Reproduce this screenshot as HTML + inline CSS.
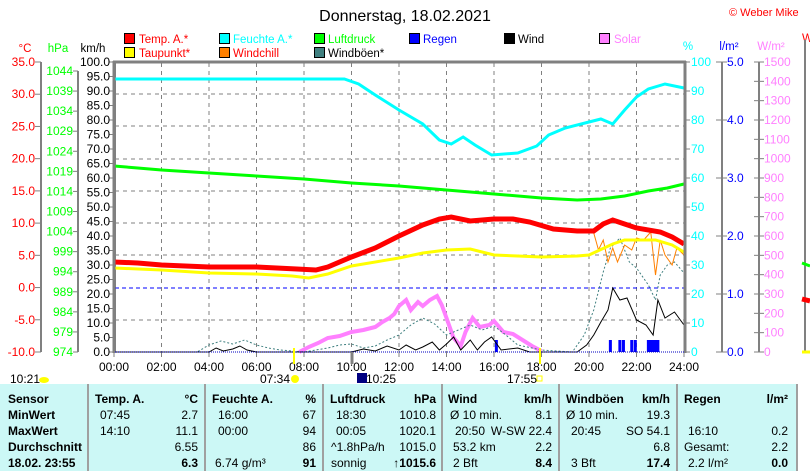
<!DOCTYPE html>
<html><head><meta charset="utf-8"><style>
body{margin:0;background:#fff;width:810px;height:471px;overflow:hidden;font-family:"Liberation Sans",sans-serif}
svg text{font-family:"Liberation Sans",sans-serif}
</style></head><body>
<svg width="810" height="471" xmlns="http://www.w3.org/2000/svg">
<text x="405" y="21" font-size="16" text-anchor="middle" fill="#000">Donnerstag, 18.02.2021</text>
<text x="729" y="16" font-size="11" fill="#f00">© Weber Mike</text>
<g font-size="11.5">
<rect x="124.5" y="33.5" width="10" height="10" fill="#f00" stroke="#000"/><text x="139" y="43" fill="#f00">Temp. A.*</text>
<rect x="124.5" y="47.5" width="10" height="10" fill="#ff0" stroke="#000"/><text x="139" y="57" fill="#f00">Taupunkt*</text>
<rect x="219.5" y="33.5" width="10" height="10" fill="#0ff" stroke="#000"/><text x="233" y="43" fill="#0ff">Feuchte A.*</text>
<rect x="219.5" y="47.5" width="10" height="10" fill="#ff8000" stroke="#000"/><text x="233" y="57" fill="#f00">Windchill</text>
<rect x="314.5" y="33.5" width="10" height="10" fill="#0f0" stroke="#000"/><text x="328" y="43" fill="#0f0">Luftdruck</text>
<rect x="314.5" y="47.5" width="10" height="10" fill="#408080" stroke="#000"/><text x="328" y="57" fill="#000">Windböen*</text>
<rect x="409.5" y="33.5" width="10" height="10" fill="#00f" stroke="#000"/><text x="423" y="43" fill="#00f">Regen</text>
<rect x="504.5" y="33.5" width="10" height="10" fill="#000" stroke="#000"/><text x="518" y="43" fill="#000">Wind</text>
<rect x="599.5" y="33.5" width="10" height="10" fill="#ff80ff" stroke="#000"/><text x="614" y="43" fill="#ff80ff">Solar</text>
</g>
<g font-size="11.5">
<text x="25" y="52" fill="#f00" text-anchor="middle">°C</text>
<text x="58" y="52" fill="#0f0" text-anchor="middle">hPa</text>
<text x="93" y="52" fill="#000" text-anchor="middle">km/h</text>
<text x="688" y="50" fill="#0ff" text-anchor="middle">%</text>
<text x="729" y="50" fill="#00f" text-anchor="middle">l/m²</text>
<text x="771" y="50" fill="#ff80ff" text-anchor="middle">W/m²</text>
<text x="802" y="42" fill="#f00">W</text>
</g>
<g stroke="#808080" stroke-width="2"><line x1="41" y1="62" x2="41" y2="352"/><line x1="78" y1="71" x2="78" y2="352"/><line x1="115" y1="62" x2="115" y2="352"/>
<line x1="722" y1="62" x2="722" y2="352"/><line x1="759" y1="62" x2="759" y2="352"/><line x1="805" y1="40" x2="805" y2="352"/></g>
<g id="ticks" stroke="#808080" stroke-width="1"></g>
<g id="lbl" font-size="12"></g>
<g stroke="#808080" stroke-dasharray="4,4" stroke-width="1" id="grid"></g>
<line x1="115" y1="288" x2="684" y2="288" stroke="#00f" stroke-dasharray="4,3"/>
<g id="series" fill="none"></g>
<g stroke="#808080"><line x1="113" y1="62" x2="686" y2="62" stroke-width="3"/><line x1="685" y1="61" x2="685" y2="353" stroke-width="3"/><line x1="114" y1="61" x2="114" y2="353" stroke-width="3"/></g>
<line x1="115" y1="352" x2="684" y2="352" stroke="#0000c0" stroke-dasharray="1,1"/>
<line x1="352" y1="352" x2="352" y2="364" stroke="#808080" stroke-width="3"/>
<line x1="294" y1="348" x2="294" y2="364" stroke="#ff0" stroke-width="2"/>
<line x1="540" y1="348" x2="540" y2="364" stroke="#ff0" stroke-width="2"/>
<g font-size="12" fill="#000">
<text x="10" y="383">10:21</text><ellipse cx="44" cy="380" rx="5" ry="3" fill="#ff0"/>
<text x="260" y="383">07:34</text><circle cx="295" cy="379" r="4" fill="#ff0"/>
<rect x="357" y="373" width="10" height="10" fill="#000080"/><text x="366" y="383">10:25</text>
<text x="507" y="383">17:55</text><rect x="537" y="376" width="5" height="5" fill="none" stroke="#ff0"/>
</g>
<rect x="0" y="384" width="796" height="87" fill="#ccf8f6"/>
<g stroke="#a0a0a0" stroke-width="2"><line x1="88" y1="384" x2="88" y2="471"/><line x1="205" y1="384" x2="205" y2="471"/><line x1="323" y1="384" x2="323" y2="471"/><line x1="442" y1="384" x2="442" y2="471"/><line x1="559" y1="384" x2="559" y2="471"/><line x1="677" y1="384" x2="677" y2="471"/><line x1="797" y1="384" x2="797" y2="471"/></g>
<g font-size="12" fill="#000">
<g font-weight="bold"><text x="8" y="403">Sensor</text><text x="8" y="419">MinWert</text><text x="8" y="435">MaxWert</text><text x="8" y="451">Durchschnitt</text><text x="8" y="467">18.02. 23:55</text>
<text x="95" y="403">Temp. A.</text><text x="198" y="403" text-anchor="end">°C</text>
<text x="212" y="403">Feuchte A.</text><text x="316" y="403" text-anchor="end">%</text>
<text x="330" y="403">Luftdruck</text><text x="436" y="403" text-anchor="end">hPa</text>
<text x="448" y="403">Wind</text><text x="552" y="403" text-anchor="end">km/h</text>
<text x="566" y="403">Windböen</text><text x="670" y="403" text-anchor="end">km/h</text>
<text x="684" y="403">Regen</text><text x="788" y="403" text-anchor="end">l/m²</text>
<text x="198" y="467" text-anchor="end">6.3</text><text x="316" y="467" text-anchor="end">91</text><text x="436" y="467" text-anchor="end">↑1015.6</text><text x="552" y="467" text-anchor="end">8.4</text><text x="670" y="467" text-anchor="end">17.4</text><text x="788" y="467" text-anchor="end">0.0</text></g>
<text x="100" y="419">07:45</text><text x="198" y="419" text-anchor="end">2.7</text>
<text x="100" y="435">14:10</text><text x="198" y="435" text-anchor="end">11.1</text>
<text x="198" y="451" text-anchor="end">6.55</text>
<text x="218" y="419">16:00</text><text x="316" y="419" text-anchor="end">67</text>
<text x="218" y="435">00:00</text><text x="316" y="435" text-anchor="end">94</text>
<text x="316" y="451" text-anchor="end">86</text><text x="215" y="467">6.74 g/m³</text>
<text x="336" y="419">18:30</text><text x="436" y="419" text-anchor="end">1010.8</text>
<text x="336" y="435">00:05</text><text x="436" y="435" text-anchor="end">1020.1</text>
<text x="331" y="451">^1.8hPa/h</text><text x="436" y="451" text-anchor="end">1015.0</text>
<text x="331" y="467">sonnig</text>
<text x="450" y="419">Ø 10 min.</text><text x="552" y="419" text-anchor="end">8.1</text>
<text x="455" y="435">20:50</text><text x="552" y="435" text-anchor="end">W-SW 22.4</text>
<text x="453" y="451">53.2 km</text><text x="552" y="451" text-anchor="end">2.2</text>
<text x="453" y="467">2 Bft</text>
<text x="566" y="419">Ø 10 min.</text><text x="670" y="419" text-anchor="end">19.3</text>
<text x="571" y="435">20:45</text><text x="670" y="435" text-anchor="end">SO 54.1</text>
<text x="670" y="451" text-anchor="end">6.8</text><text x="571" y="467">3 Bft</text>
<text x="688" y="435">16:10</text><text x="788" y="435" text-anchor="end">0.2</text>
<text x="684" y="451">Gesamt:</text><text x="788" y="451" text-anchor="end">2.2</text>
<text x="688" y="467">2.2 l/m²</text>
</g>
</svg>
<script>
const NS="http://www.w3.org/2000/svg";
function el(p,t,a,txt){const e=document.createElementNS(NS,t);for(const k in a)e.setAttribute(k,a[k]);if(txt!=null)e.textContent=txt;document.getElementById(p).appendChild(e);return e;}
for(let i=0;i<=9;i++){let y=62+i*290/9;let v=(35-5*i).toFixed(1);el('lbl','text',{x:35,y:y+4,'text-anchor':'end',fill:'#f00'},v);el('ticks','line',{x1:35,y1:y,x2:41,y2:y});}
for(let i=0;i<=14;i++){let y=71+i*(281/14);el('lbl','text',{x:73,y:y+4,'text-anchor':'end',fill:'#0f0'},1044-5*i);el('ticks','line',{x1:73,y1:y,x2:78,y2:y});}
for(let i=0;i<=20;i++){let y=62+i*14.5;el('lbl','text',{x:110,y:y+4,'text-anchor':'end',fill:'#000'},(100-5*i).toFixed(1));el('ticks','line',{x1:109,y1:y,x2:115,y2:y});}
for(let i=0;i<=10;i++){let y=62+i*29;el('lbl','text',{x:691,y:y+4,fill:'#0ff'},100-10*i);el('ticks','line',{x1:685,y1:y,x2:690,y2:y});}
for(let i=0;i<=5;i++){let y=62+i*58;el('lbl','text',{x:727,y:y+4,fill:'#00f'},(5-i).toFixed(1));el('ticks','line',{x1:716,y1:y,x2:727,y2:y});}
for(let i=0;i<=15;i++){let y=62+i*290/15;el('lbl','text',{x:764,y:y+4,fill:'#ff80ff'},1500-100*i);el('ticks','line',{x1:754,y1:y,x2:764,y2:y});}
for(let i=0;i<=12;i++){let x=114+i*47.5;let h=String(i*2).padStart(2,'0')+':00';el('lbl','text',{x:x,y:371,'text-anchor':'middle',fill:'#000'},h);el('ticks','line',{x1:x,y1:352,x2:x,y2:357});
 if(i>0&&i<12)el('grid','line',{x1:x,y1:63,x2:x,y2:352});}
[94,126,159,191,223,255,320].forEach(y=>el('grid','line',{x1:115,y1:y,x2:684,y2:y}));
const X=h=>114+h*23.75;
function pl(pts,a){el('series','polyline',Object.assign({points:pts.map(p=>X(p[0])+','+p[1]).join(' ')},a));}
[[16.1,340],[20.9,340],[21.3,340],[21.45,340],[21.8,340],[21.95,340],[22.5,340],[22.6,340],[22.7,340],[22.8,340],[22.9,340]].forEach(b=>el('series','rect',{x:X(b[0])-1.5,y:b[1],width:3,height:352-b[1],fill:'#00f'}));
pl([[7.8,352],[8.2,347],[8.6,343],[9,338],[9.5,336],[10,332],[10.5,330],[11,327],[11.3,322],[11.6,318],[11.8,314],[12,306],[12.3,300],[12.5,310],[12.8,302],[13,306],[13.3,300],[13.6,296],[13.8,305],[14,318],[14.3,338],[14.6,346],[14.8,332],[15.1,318],[15.4,327],[15.8,325],[16,321],[16.4,332],[16.8,334],[17.2,340],[17.6,346],[18,351]],{stroke:'#ff80ff','stroke-width':4});
pl([[0,352],[3.5,352],[4,345],[4.5,341],[5,344],[5.5,340],[6,345],[6.5,348],[7,350],[8,352],[9,348],[9.5,345],[10,344],[10.5,348],[11,346],[11.5,340],[12,335],[12.5,325],[13,318],[13.5,324],[14,335],[14.5,330],[15,325],[15.5,330],[16,326],[16.5,335],[17,345],[18,350],[19.3,352],[19.8,335],[20.2,310],[20.6,272],[20.9,248],[21.3,238],[21.7,262],[22,268],[22.5,285],[22.8,300],[23,275],[23.3,265],[23.6,262],[24,273]],{stroke:'#408080','stroke-width':1,'stroke-dasharray':'2,2'});
pl([[0,352],[4,352],[4.3,348],[4.6,351],[5,349],[5.3,346],[5.6,350],[6,352],[10,352],[10.5,349],[11,351],[11.5,346],[12,350],[12.3,345],[12.7,350],[13,347],[13.4,342],[13.7,350],[14,344],[14.3,337],[14.6,350],[15,340],[15.3,350],[15.6,342],[15.9,337],[16.3,350],[17,348],[17.5,352],[19.5,352],[19.9,345],[20.2,335],[20.5,322],[20.8,310],[21,288],[21.3,300],[21.6,298],[22,320],[22.4,325],[22.7,335],[22.9,300],[23.2,318],[23.6,312],[24,325]],{stroke:'#000','stroke-width':1});
pl([[0,166],[1,168],[2,170],[4,173],[6,176],[8,179],[10,183],[12,186],[14,190],[16,194],[18,198],[19.5,200],[20.5,199],[21.5,196],[22.5,191],[23.3,188],[24,184]],{stroke:'#0f0','stroke-width':3});
pl([[0,79],[9.7,79],[10.3,84],[11,95],[12,110],[13,124],[13.7,140],[14.2,144],[14.7,137],[15.2,145],[15.9,155],[17,153],[17.8,146],[18.3,135],[19,128],[20,122],[20.5,119],[21,124],[21.5,110],[22,97],[22.5,89],[23.2,84],[24,88]],{stroke:'#0ff','stroke-width':3});
pl([[20.2,233],[20.4,250],[20.6,240],[20.8,262],[21,248],[21.2,262],[21.5,245],[21.8,250],[22,238],[22.3,240],[22.6,232],[22.8,275],[23,240],[23.2,255],[23.5,265],[23.7,248],[24,255]],{stroke:'#ff8000','stroke-width':1});
pl([[0,268],[2,270],[4,273],[6,274],[7.5,276],[8.2,278],[9,274],[10,266],[12,258],[13,253],[14,250],[15,249],[16,255],[17,256],[18,257],[19.5,256],[20,255],[21,244],[21.5,240],[22,240],[22.8,240],[23.5,245],[24,252]],{stroke:'#ff0','stroke-width':3});
pl([[0,262],[1,263],[2,265],[4,267],[6,267],[7.7,269],[8.5,270],[9,267],[10,257],[11,248],[12,236],[13,225],[13.7,219],[14.2,217],[15,221],[16,219],[16.8,219],[17.5,222],[18.5,229],[19.5,231],[20.2,231],[20.6,224],[21,220],[21.5,224],[22,228],[23,232],[23.5,237],[24,244]],{stroke:'#f00','stroke-width':5});
el('series','line',{x1:802,y1:263,x2:810,y2:266,stroke:'#0f0','stroke-width':3});
el('series','line',{x1:802,y1:299,x2:810,y2:301,stroke:'#f00','stroke-width':5});
el('series','line',{x1:802,y1:352,x2:810,y2:352,stroke:'#ff0','stroke-width':3});
</script>
</body></html>
